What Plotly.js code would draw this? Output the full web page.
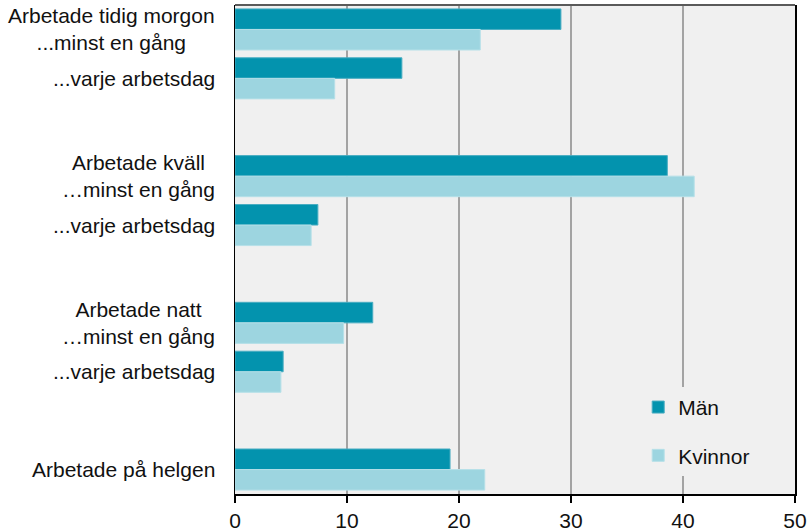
<!DOCTYPE html>
<html>
<head>
<meta charset="utf-8">
<script src="https://cdn.plot.ly/plotly-3.0.1.min.js"></script>
<style>
html,body{margin:0;padding:0;background:#fff;}
#chart{width:808px;height:531px;}
</style>
</head>
<body>
<div id="chart"></div>
<script>
// Category labels (top to bottom)
const categories = [
  "Arbetade tidig morgon<br>...minst en gång",
  "...varje arbetsdag",
  "Arbetade kväll<br>…minst en gång",
  "...varje arbetsdag",
  "Arbetade natt<br>…minst en gång",
  "...varje arbetsdag",
  "Arbetade på helgen"
];
// Series values (percent)
const man     = [29.1, 14.9, 38.6, 7.4, 12.3, 4.3, 19.2];
const kvinnor = [21.9,  8.9, 41.0, 6.8,  9.7, 4.1, 22.3];
const seriesNames = ["Män", "Kvinnor"];
const xTicks = [0, 10, 20, 30, 40, 50];

// slot index: each pair of categories is followed by an empty slot
const slots = categories.map((c, i) => i + Math.floor(i / 2));

const FONT = "Liberation Sans, Arial, Helvetica, sans-serif";

const traces = [
  {
    type: "bar", orientation: "h", name: seriesNames[0],
    x: man, y: slots, legendgroup: "a",
    marker: {color: "#0393ae", line: {color: "#49adc2", width: 1}},
    hoverinfo: "x"
  },
  {
    type: "bar", orientation: "h", name: seriesNames[1],
    x: kvinnor, y: slots, legendgroup: "b",
    marker: {color: "#9dd5e0", line: {color: "#b6e0e8", width: 1}},
    hoverinfo: "x"
  }
];

const annotations = categories.map((c, i) => ({
  text: c, xref: "paper", x: 0, xanchor: "right", xshift: -18,
  yref: "y", y: slots[i], yanchor: "middle",
  align: "center", showarrow: false,
  font: {family: FONT, size: 21, color: "#111"}
}));

const layout = {
  width: 808, height: 531,
  margin: {l: 235, r: 13, t: 5, b: 37, pad: 0},
  paper_bgcolor: "#ffffff",
  plot_bgcolor: "#f0f0f0",
  barmode: "group",
  bargap: 0.16,
  bargroupgap: 0,
  font: {family: FONT, size: 21, color: "#111"},
  xaxis: {
    range: [0, 50], tickvals: xTicks, ticktext: xTicks.map(String),
    showgrid: true, gridcolor: "#a3a3a3", gridwidth: 1.5,
    zeroline: false, showline: true, linecolor: "#000", linewidth: 1.5,
    ticks: "outside", ticklen: 7, tickwidth: 1.5, tickcolor: "#000",
    tickfont: {family: FONT, size: 21, color: "#111"}, fixedrange: true
  },
  yaxis: {
    range: [9.5, -0.5], showticklabels: false, showgrid: false,
    zeroline: false, showline: true, linecolor: "#000", linewidth: 1.5,
    mirror: true, ticks: "", fixedrange: true
  },
  shapes: [{
    type: "line", xref: "paper", yref: "paper", x0: 0, x1: 1, y0: 1, y1: 1,
    line: {color: "#5a5a5a", width: 2}
  }],
  annotations: annotations,
  showlegend: true,
  legend: {
    x: 0.72, xanchor: "left", y: 0.219, yanchor: "top",
    bgcolor: "#f0f0f0", borderwidth: 0,
    traceorder: "grouped", tracegroupgap: 18,
    font: {family: FONT, size: 21, color: "#111"}
  }
};

Plotly.newPlot("chart", traces, layout, {displayModeBar: false, staticPlot: true});
</script>
</body>
</html>
